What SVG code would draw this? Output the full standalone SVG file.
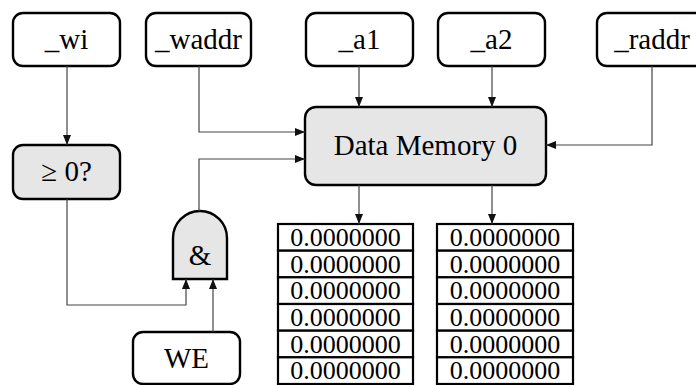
<svg xmlns="http://www.w3.org/2000/svg" width="696" height="385" viewBox="0 0 696 385">
  <defs>
    <marker id="arrow" viewBox="0 0 10 10" refX="10" refY="5" markerWidth="10" markerHeight="10" markerUnits="userSpaceOnUse" orient="auto">
      <path d="M0,1 L10,5 L0,9 Z" fill="#111"/>
    </marker>
  </defs>
  <style>
    .node { fill: #fff; stroke: #000; stroke-width: 2.4; }
    .gray { fill: #e6e6e6; stroke: #000; stroke-width: 2.4; }
    .cell { fill: #fff; stroke: #000; stroke-width: 2.2; }
    .lbl { font-family: "Liberation Serif", "Times New Roman", serif; font-size: 29px; fill: #000; text-anchor: middle; }
    .num { font-family: "Liberation Serif", "Times New Roman", serif; font-size: 26px; fill: #000; text-anchor: middle; }
    .wire { fill: none; stroke: #444; stroke-width: 1.2; }
    .wire.arr { marker-end: url(#arrow); }
  </style>

  <!-- input nodes -->
  <g id="wi">
    <rect class="node" x="13" y="13" width="107" height="53" rx="10"/>
    <text class="lbl" x="66.5" y="49">_wi</text>
  </g>
  <g id="waddr">
    <rect class="node" x="146" y="13" width="105" height="53" rx="10"/>
    <text class="lbl" x="198.5" y="49">_waddr</text>
  </g>
  <g id="a1">
    <rect class="node" x="306" y="13" width="107" height="53" rx="10"/>
    <text class="lbl" x="359.5" y="49">_a1</text>
  </g>
  <g id="a2">
    <rect class="node" x="438" y="13" width="107" height="53" rx="10"/>
    <text class="lbl" x="491.5" y="49">_a2</text>
  </g>
  <g id="raddr">
    <rect class="node" x="597" y="13" width="110" height="53" rx="10"/>
    <text class="lbl" x="652" y="49">_raddr</text>
  </g>

  <!-- processing nodes -->
  <g id="mem">
    <rect class="gray" x="305" y="107" width="241" height="78" rx="11"/>
    <text class="lbl" x="425.5" y="155">Data Memory 0</text>
  </g>
  <g id="ge0">
    <rect class="gray" x="13" y="145" width="107" height="54" rx="10"/>
    <text class="lbl" x="66.5" y="181">≥ 0?</text>
  </g>
  <g id="and">
    <path class="gray" d="M173,279 L173,238 A27,27 0 0 1 227,238 L227,279 Z"/>
    <text class="lbl" x="200" y="265">&amp;</text>
  </g>
  <g id="we">
    <rect class="node" x="133" y="332" width="107" height="52" rx="10"/>
    <text class="lbl" x="186.5" y="368">WE</text>
  </g>

  <!-- memory contents, port 1 -->
  <g id="bank1">
    <rect class="cell" x="278" y="224" width="135" height="26.7"/>
    <rect class="cell" x="278" y="250.7" width="135" height="26.7"/>
    <rect class="cell" x="278" y="277.3" width="135" height="26.7"/>
    <rect class="cell" x="278" y="304" width="135" height="26.7"/>
    <rect class="cell" x="278" y="330.7" width="135" height="26.7"/>
    <rect class="cell" x="278" y="357.3" width="135" height="26.7"/>
    <text class="num" x="345.5" y="246">0.0000000</text>
    <text class="num" x="345.5" y="272.7">0.0000000</text>
    <text class="num" x="345.5" y="299.3">0.0000000</text>
    <text class="num" x="345.5" y="326">0.0000000</text>
    <text class="num" x="345.5" y="352.7">0.0000000</text>
    <text class="num" x="345.5" y="379.3">0.0000000</text>
  </g>
  <!-- memory contents, port 2 -->
  <g id="bank2">
    <rect class="cell" x="437" y="224" width="136" height="26.7"/>
    <rect class="cell" x="437" y="250.7" width="136" height="26.7"/>
    <rect class="cell" x="437" y="277.3" width="136" height="26.7"/>
    <rect class="cell" x="437" y="304" width="136" height="26.7"/>
    <rect class="cell" x="437" y="330.7" width="136" height="26.7"/>
    <rect class="cell" x="437" y="357.3" width="136" height="26.7"/>
    <text class="num" x="505" y="246">0.0000000</text>
    <text class="num" x="505" y="272.7">0.0000000</text>
    <text class="num" x="505" y="299.3">0.0000000</text>
    <text class="num" x="505" y="326">0.0000000</text>
    <text class="num" x="505" y="352.7">0.0000000</text>
    <text class="num" x="505" y="379.3">0.0000000</text>
  </g>

  <!-- connectors -->
  <g id="wires">
    <path class="wire arr" d="M67,66 L67,145"/>
    <path class="wire arr" d="M199,66 L199,132 L305,132"/>
    <path class="wire arr" d="M359,66 L359,107"/>
    <path class="wire arr" d="M492,66 L492,107"/>
    <path class="wire arr" d="M652,66 L652,145 L546,145"/>
    <path class="wire arr" d="M67,199 L67,305 L186,305 L186,279"/>
    <path class="wire arr" d="M213,332 L213,279"/>
    <path class="wire arr" d="M199,211 L199,159 L305,159"/>
    <path class="wire arr" d="M359,185 L359,224"/>
    <path class="wire arr" d="M492,185 L492,224"/>
  </g>
</svg>
